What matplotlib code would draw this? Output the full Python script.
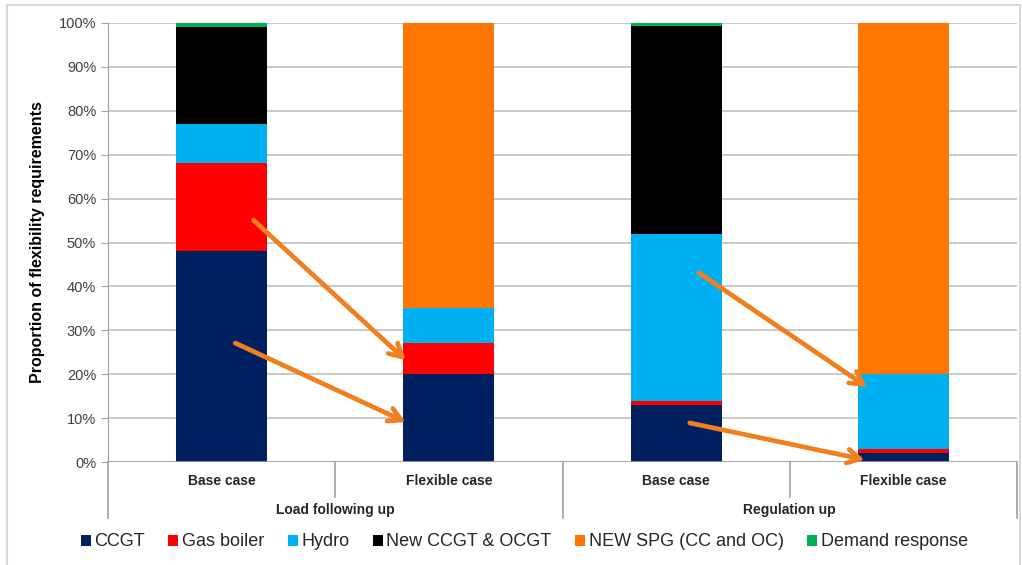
import matplotlib.pyplot as plt
from matplotlib.patches import Rectangle
from matplotlib.lines import Line2D

plt.rcParams["font.family"] = ["Liberation Sans", "DejaVu Sans"]

cases = ["Base case", "Flexible case", "Base case", "Flexible case"]
groups = ["Load following up", "Regulation up"]
series = ["CCGT", "Gas boiler", "Hydro", "New CCGT & OCGT", "NEW SPG (CC and OC)", "Demand response"]
colors = ["#002060", "#FF0000", "#00B0F0", "#000000", "#FF7700", "#00B050"]

ccgt = [48, 20, 13, 2]
gas_boiler = [20, 7, 1, 1]
hydro = [9, 8, 38, 17]
new_ccgt = [22, 0, 47.3, 0]
new_spg = [0, 65, 0, 80]
demand = [1, 0, 0.7, 0]
values = [ccgt, gas_boiler, hydro, new_ccgt, new_spg, demand]

# arrows: (x_start, y_start, x_end, y_end) in data units
arrows = [
    (0.14, 55.1, 0.81, 23.2),
    (0.06, 27.1, 0.81, 9.1),
    (2.10, 43.1, 2.84, 17.1),
    (2.06, 8.9, 2.83, 0.5),
]

fig = plt.figure(figsize=(10.22, 5.65), dpi=100)
ax = fig.add_axes([108 / 1022, 1 - 462 / 565, 909 / 1022, 439 / 565])

x = list(range(len(cases)))
bottom = [0.0] * len(cases)
for name, vals, col in zip(series, values, colors):
    ax.bar(x, vals, width=0.4, bottom=bottom, color=col, label=name, zorder=2)
    bottom = [b + v for b, v in zip(bottom, vals)]

ax.set_xlim(-0.5, 3.5)
ax.set_ylim(0, 100)
ax.set_yticks(range(0, 101, 10))
ax.set_yticklabels([f"{v}%" for v in range(0, 101, 10)], fontsize=10.5, color="#404040")
ax.yaxis.grid(True, color="#c0c0c0", lw=1.2, zorder=0)
ax.set_xticks([])
ax.tick_params(axis="y", length=5, color="#a0a0a0")
for s in ["top", "right", "bottom"]:
    ax.spines[s].set_visible(False)
ax.spines["left"].set_color("#a0a0a0")
ax.spines["left"].set_bounds(0, 100)
ax.axhline(0, color="#a0a0a0", lw=1.2, zorder=3)

ax.set_ylabel("Proportion of flexibility requirements", fontsize=11.5, fontweight="bold", labelpad=10)

# category axis frame
trans = ax.get_xaxis_transform()
for xs, depth in [(-0.5, -0.128), (0.5, -0.08), (1.5, -0.128), (2.5, -0.08), (3.5, -0.128)]:
    ax.add_line(Line2D([xs, xs], [0, depth], transform=trans, color="#a0a0a0", lw=1.2, clip_on=False))
for xi, lab in zip(x, cases):
    ax.text(xi, -0.043, lab, transform=trans, ha="center", va="center", fontsize=10, fontweight="bold", color="#262626")
for gi, lab in enumerate(groups):
    ax.text(gi * 2 + 0.5, -0.11, lab, transform=trans, ha="center", va="center", fontsize=10, fontweight="bold", color="#262626")

for x0, y0, x1, y1 in arrows:
    ax.annotate("", xy=(x1, y1), xytext=(x0, y0),
                arrowprops=dict(arrowstyle="->,head_length=0.9,head_width=0.5", color="#F07F1E", lw=3.4,
                                shrinkA=0, shrinkB=0), zorder=5)

handles, labels = ax.get_legend_handles_labels()
fig.legend(handles, labels, loc="center", bbox_to_anchor=(0.513, 1 - 542 / 565), ncol=6, frameon=False,
           fontsize=13, handlelength=0.55, handleheight=0.55, handletextpad=0.2, columnspacing=1.3,
           labelcolor="#262626")

fig.patches.append(Rectangle((7 / 1022, -0.05), 1013 / 1022, 1.05 - 5 / 565, transform=fig.transFigure,
                             fill=False, edgecolor="#d9d9d9", lw=1.5))

fig.savefig("out.png", dpi=100)
